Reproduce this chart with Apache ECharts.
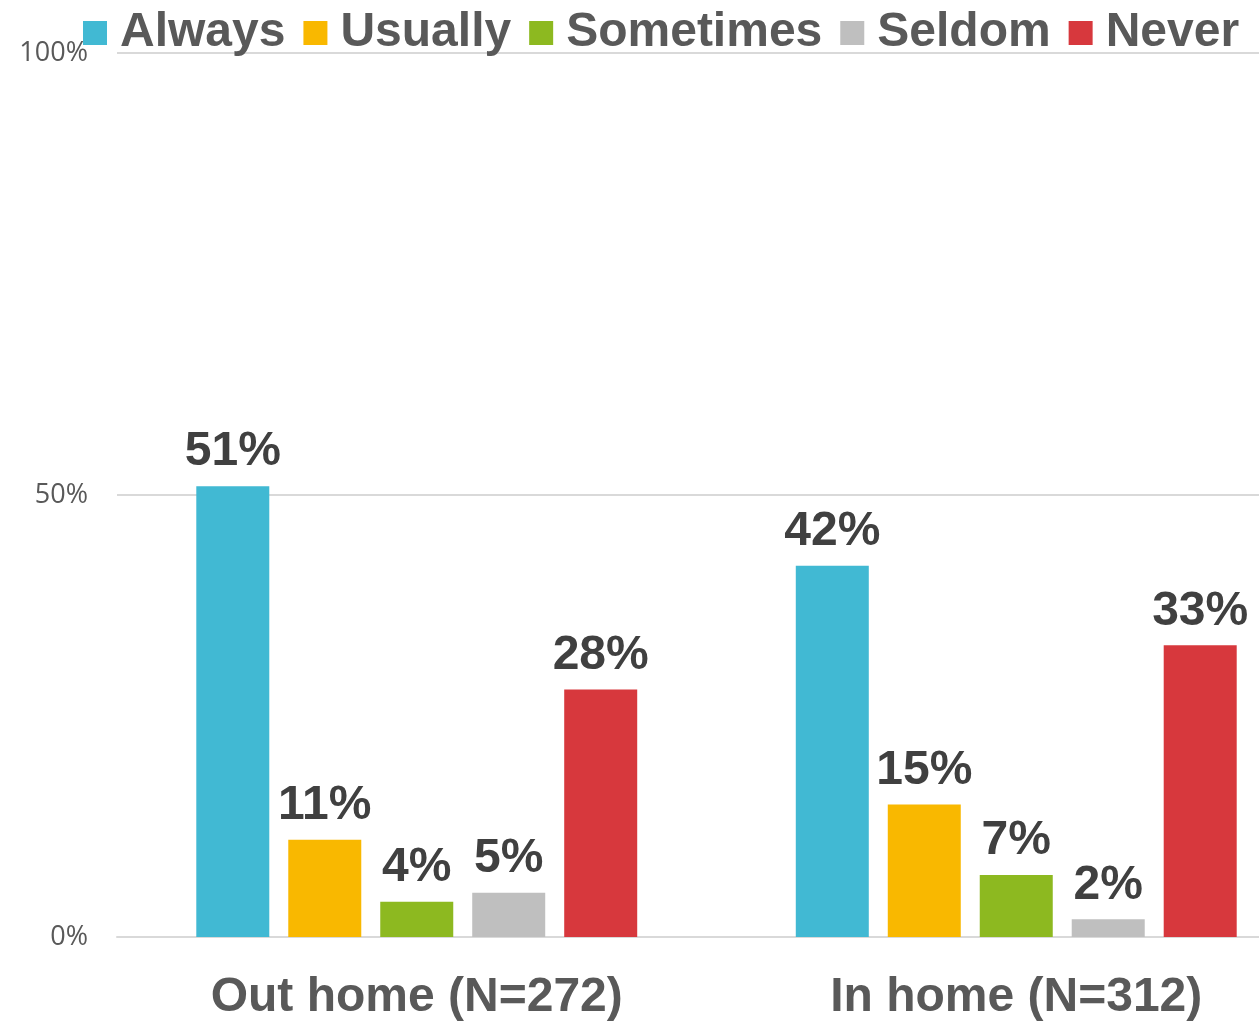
<!DOCTYPE html>
<html>
<head>
<meta charset="utf-8">
<script src="https://cdn.jsdelivr.net/npm/echarts@6/dist/echarts.min.js"></script>
<style>html,body{margin:0;padding:0;background:#fff;overflow:hidden;width:1259px;height:1022px}#c{width:1316px;height:1022px}</style>
</head>
<body>
<div id="c"></div>
<script>
const categories = ['Out home (N=272)', 'In home (N=312)'];
const seriesNames = ['Always', 'Usually', 'Sometimes', 'Seldom', 'Never'];
const always = [51, 42];
const usually = [11, 15];
const sometimes = [4, 7];
const seldom = [5, 2];
const never = [28, 33];
const yTicks = [0, 50, 100];
const colors = ['#41B9D3', '#F9B800', '#8DB920', '#BFBFBF', '#D7383D'];
const values = [always, usually, sometimes, seldom, never];

const chart = echarts.init(document.getElementById('c'));
const font = '"Liberation Sans", Arial, sans-serif';
chart.setOption({
  animation: false,
  color: colors,
  legend: {
    left: 78, top: 4,
    itemWidth: 24, itemHeight: 24, itemGap: 18,
    icon: 'rect',
    textStyle: { fontFamily: font, fontSize: 48, fontWeight: 'bold', color: '#595959', padding: [0, 0, 0, 8] },
    data: seriesNames
  },
  grid: { left: 117, right: 0, top: 53, bottom: 83 },
  xAxis: {
    type: 'category',
    data: categories,
    axisLine: { lineStyle: { color: '#D9D9D9', width: 2 } },
    axisTick: { show: false },
    axisLabel: { fontFamily: font, fontSize: 48, fontWeight: 'bold', color: '#595959', margin: 37 }
  },
  yAxis: {
    type: 'value', min: 0, max: 100, interval: 50,
    axisLine: { show: false }, axisTick: { show: false },
    splitLine: { lineStyle: { color: '#D9D9D9', width: 2 } },
    axisLabel: { fontFamily: '"Open Sans", sans-serif', fontSize: 27, color: '#595959', margin: 29,
      formatter: v => yTicks.includes(v) ? v + '%' : '' }
  },
  series: seriesNames.map((n, i) => ({
    name: n, type: 'bar', data: values[i],
    barWidth: 73, barGap: '26%',
    itemStyle: { color: colors[i] },
    label: { show: true, position: 'top', distance: 10, formatter: '{c}%',
      fontFamily: font, fontSize: 48, fontWeight: 'bold', color: '#404040' }
  }))
});
</script>
</body>
</html>
